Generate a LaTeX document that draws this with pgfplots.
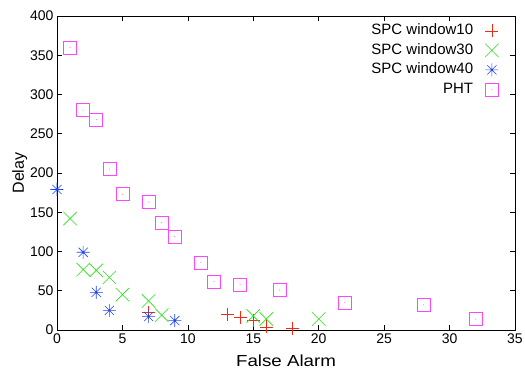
\documentclass[border=0pt]{standalone}
\usepackage{pgfplots}
\pgfplotsset{compat=1.18}
\usepackage{fontspec}
\setmainfont{Liberation Sans}
\newfontfamily\widefont{Liberation Sans}[FakeStretch=1.17]
\definecolor{gpred}{RGB}{245,40,20}
\definecolor{gpgreen}{RGB}{40,225,20}
\definecolor{gpblue}{RGB}{30,70,235}
\definecolor{gpmag}{RGB}{255,70,255}
\pgfdeclareplotmark{gpstar}{%
  \pgfpathmoveto{\pgfqpoint{\pgfplotmarksize}{0pt}}\pgfpathlineto{\pgfqpoint{-\pgfplotmarksize}{0pt}}%
  \pgfpathmoveto{\pgfqpoint{0pt}{\pgfplotmarksize}}\pgfpathlineto{\pgfqpoint{0pt}{-\pgfplotmarksize}}%
  \pgfpathmoveto{\pgfqpoint{0.707\pgfplotmarksize}{0.707\pgfplotmarksize}}\pgfpathlineto{\pgfqpoint{-0.707\pgfplotmarksize}{-0.707\pgfplotmarksize}}%
  \pgfpathmoveto{\pgfqpoint{-0.707\pgfplotmarksize}{0.707\pgfplotmarksize}}\pgfpathlineto{\pgfqpoint{0.707\pgfplotmarksize}{-0.707\pgfplotmarksize}}%
  \pgfusepathqstroke}
\pgfdeclareplotmark{gpbox}{%
  \pgfpathrectanglecorners{\pgfqpoint{-\pgfplotmarksize}{-\pgfplotmarksize}}{\pgfqpoint{\pgfplotmarksize}{\pgfplotmarksize}}%
  \pgfusepathqstroke
  \pgfpathcircle{\pgfqpoint{0pt}{0pt}}{0.5pt}\pgfusepathqfill}
\begin{document}
\begin{tikzpicture}
\begin{axis}[
  scale only axis,
  width=458pt, height=314pt,
  xmin=0, xmax=35, ymin=0, ymax=400,
  xtick={0,5,...,35}, ytick={0,50,...,400},
  tick align=inside,
  major tick length=5pt,
  tick style={black, line width=0.6pt},
  axis line style={line width=0.8pt},
  tick label style={font=\fontsize{14}{16}\selectfont},
  /pgf/number format/assume math mode=true,
  xlabel={False Alarm}, ylabel={Delay},
  xlabel style={font=\widefont\fontsize{16}{18}\selectfont, at={(rel axis cs:0.5,-0.1178)}, anchor=base, inner sep=0pt},
  ylabel style={font=\fontsize{16}{18}\selectfont, at={(rel axis cs:-0.0721,0.5)}, anchor=base, inner sep=0pt},
  legend style={draw=none, fill=none, at={(0.969,0.986)}, anchor=north east,
    font=\fontsize{15}{17}\selectfont, row sep=3pt, inner sep=2pt,
    nodes={inner sep=1pt, text height=11pt, text depth=3.5pt},
    /tikz/every odd column/.append style={column sep=11pt},
    cells={anchor=east}},
  legend plot pos=right,
  legend cell align=right,
]
\coordinate (BL) at (rel axis cs:0,0);
\coordinate (TR) at (rel axis cs:1,1);
\addplot[only marks, mark=+, mark size=6.5pt, color=gpred, line width=0.6pt]
  coordinates {(7,22) (13,20) (14,16) (15,12) (16,4) (18,2)};
\addlegendentry{SPC window10}
\addplot[only marks, mark=x, mark size=9.5pt, color=gpgreen, line width=0.6pt]
  coordinates {(1,142) (2,77) (3,76) (4,67) (5,45) (7,37) (8,19) (15,18) (16,14) (20,14)};
\addlegendentry{SPC window30}
\addplot[only marks, mark=gpstar, mark size=6.5pt, color=gpblue, line width=0.6pt]
  coordinates {(0,179) (2,99) (3,48) (4,25) (7,17) (9,12)};
\addlegendentry{SPC window40}
\addplot[only marks, mark=gpbox, mark size=6.5pt, color=gpmag, line width=0.6pt]
  coordinates {(1,360) (2,280) (3,268) (4,205) (5,173) (7,163) (8,137) (9,119) (11,86) (12,62) (14,58) (17,51) (22,35) (28,32) (32,14)};
\addlegendentry{PHT}
\end{axis}
\path (BL) ++(-57pt,-41pt) coordinate (a);
\path (TR) ++(10pt,16pt) coordinate (b);
\pgfresetboundingbox
\path (a) rectangle (b);
\end{tikzpicture}
\end{document}
